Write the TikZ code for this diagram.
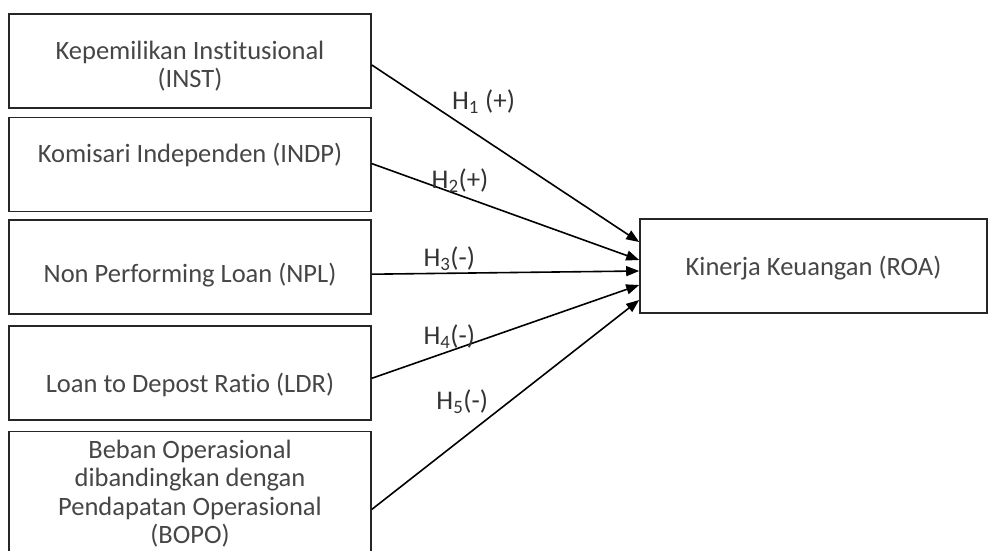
\documentclass[tikz,border=0pt]{standalone}
\usepackage{fontspec}
\setmainfont{Carlito}[Ligatures=NoCommon]
\usepackage{xcolor}
\usetikzlibrary{positioning,calc,arrows.meta}
\definecolor{txtgray}{RGB}{70,70,70}
\tikzset{
    varbox/.style={draw=black!85, line width=1.6pt, minimum width=362pt, minimum height=94pt, inner sep=0pt},
    boxtext/.style={align=center, text=txtgray, font=\fontsize{26.5}{28.5}\selectfont, inner sep=0pt},
    hyparrow/.style={line width=1.6pt, -{Triangle[length=13pt,width=10pt]}},
    hyplabel/.style={font=\fontsize{27}{30}\selectfont, text=black!80, inner sep=2pt}
}

\begin{document}
\begin{tikzpicture}[x=1pt,y=1pt]
    % Canvas
    \useasboundingbox (0,0) rectangle (988,-551);
    \clip (0,0) rectangle (988,-551);

    % Independent variables (left column)
    \node [varbox, label={[boxtext, yshift=-5pt, name=inst-txt]center:Kepemilikan Institusional\\(INST)}]
        (inst) at (190,-61) {};
    \node [varbox, below=8pt of inst, label={[boxtext, yshift=10pt, name=indp-txt]center:Komisari Independen (INDP)}]
        (indp) {};
    \node [varbox, below=7pt of indp, label={[boxtext, yshift=-8pt, name=npl-txt]center:Non Performing Loan (NPL)}]
        (npl) {};
    \node [varbox, below=10pt of npl, label={[boxtext, yshift=-12pt, name=ldr-txt]center:Loan to Depost Ratio (LDR)}]
        (ldr) {};
    \node [varbox, minimum height=150pt, below=10pt of ldr,
        label={[boxtext, yshift=13pt, name=bopo-txt]center:Beban Operasional\\dibandingkan dengan\\Pendapatan Operasional\\(BOPO)}]
        (bopo) {};

    % Dependent variable
    \node [varbox, minimum width=347pt, label={[boxtext, yshift=-2pt, name=roa-txt]center:Kinerja Keuangan (ROA)}]
        (roa) at (813.5,-266) {};

    % Hypotheses H1-H5
    \foreach \src/\sy/\ey/\lab/\p/\anc in {
        inst/-4/24/{H\textsubscript{1} (+)}/0.29/south west,
        indp/1/6/{H\textsubscript{2}(+)}/0.33/south,
        npl/-7/-5/{H\textsubscript{3}(-)}/0.29/south,
        ldr/-5.5/-19/{H\textsubscript{4}(-)}/0.29/south,
        bopo/-3/-34/{H\textsubscript{5}(-)}/0.445/south east} {
        \draw [hyparrow] ([yshift=\sy pt]\src.east) -- ([yshift=\ey pt]roa.west)
            node [hyplabel, pos=\p, anchor=\anc] {\lab};
    }
\end{tikzpicture}
\end{document}
